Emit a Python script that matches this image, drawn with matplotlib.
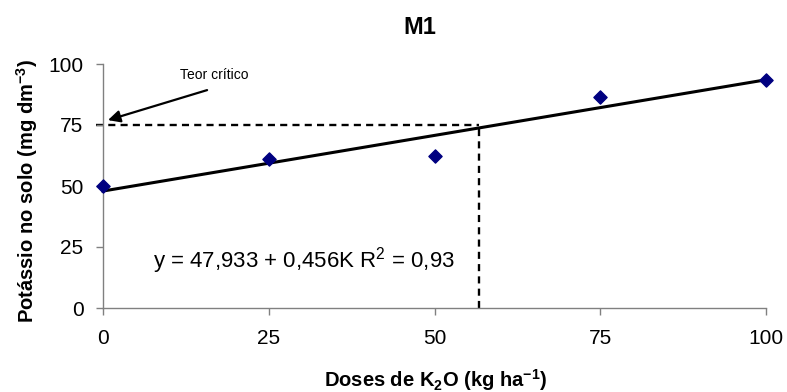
import matplotlib
matplotlib.use("Agg")
import matplotlib.pyplot as plt
import numpy as np

plt.rcParams['font.family'] = ['Liberation Sans', 'DejaVu Sans']
plt.rcParams['mathtext.fontset'] = 'custom'
plt.rcParams['mathtext.rm'] = 'Liberation Sans'
plt.rcParams['mathtext.it'] = 'Liberation Sans:italic'
plt.rcParams['mathtext.bf'] = 'Liberation Sans:bold'

doses = [0, 25, 50, 75, 100]
potassio = [50, 61, 62.3, 86.6, 93.6]
intercept = 47.933
slope = 0.456
critical_level = 75
critical_dose = 56.7
x_ticks = [0, 25, 50, 75, 100]
y_ticks = [0, 25, 50, 75, 100]

fig = plt.figure(figsize=(7.87, 3.92), dpi=100)
ax = fig.add_axes([103/787, 1 - 308/392, (766-103)/787, (308-64)/392])

xf = np.array([0, 100])
ax.plot(xf, intercept + slope * xf, color='black', lw=2.2, zorder=2, clip_on=False)
ax.scatter(doses, potassio, marker='D', s=45, color='#000080', zorder=3, clip_on=False)

ax.plot([-1, critical_dose], [critical_level, critical_level], color='black', lw=1.7,
        linestyle=(0, (3, 2.2)), zorder=1, clip_on=False)
ax.plot([critical_dose, critical_dose], [0, critical_level], color='black', lw=1.7,
        linestyle=(0, (3, 2.2)), zorder=1, clip_on=False)

ax.annotate('', xy=(0.75, 77), xytext=(15.7, 89.3),
            arrowprops=dict(arrowstyle='-|>', color='black', lw=1.6, mutation_scale=18,
                            shrinkA=0, shrinkB=0))
ax.text(11.6, 95.5, 'Teor crítico', fontsize=10, ha='left', va='center')

ax.text(7.5, 16.8, 'y = 47,933 + 0,456K R$^2$ = 0,93', fontsize=16, ha='left', va='baseline')

ax.set_xlim(0, 100)
ax.set_ylim(0, 100)
ax.set_xticks(x_ticks)
ax.set_yticks(y_ticks)
ax.tick_params(axis='both', labelsize=15, direction='out', length=5, color='#808080', width=1)
ax.tick_params(axis='x', pad=10)
ax.tick_params(axis='y', pad=9)
for s in ['top', 'right']:
    ax.spines[s].set_visible(False)
for s in ['left', 'bottom']:
    ax.spines[s].set_color('#808080')
    ax.spines[s].set_linewidth(1)

fig.text(420/787, 1 - 27/392, 'M1', fontsize=17, fontweight='bold', ha='center', va='center')
fig.text(436/787, 1 - 387/392, 'Doses de K$_\\mathbf{2}$O (kg ha$^\\mathbf{-1}$)', fontsize=14.5,
         fontweight='bold', ha='center', va='baseline')
fig.text(27/787, 1 - 191/392, 'Potássio no solo (mg dm$^\\mathbf{-3}$)', fontsize=14.5,
         fontweight='bold', ha='center', va='center', rotation=90)

fig.savefig('out.png', dpi=100)
